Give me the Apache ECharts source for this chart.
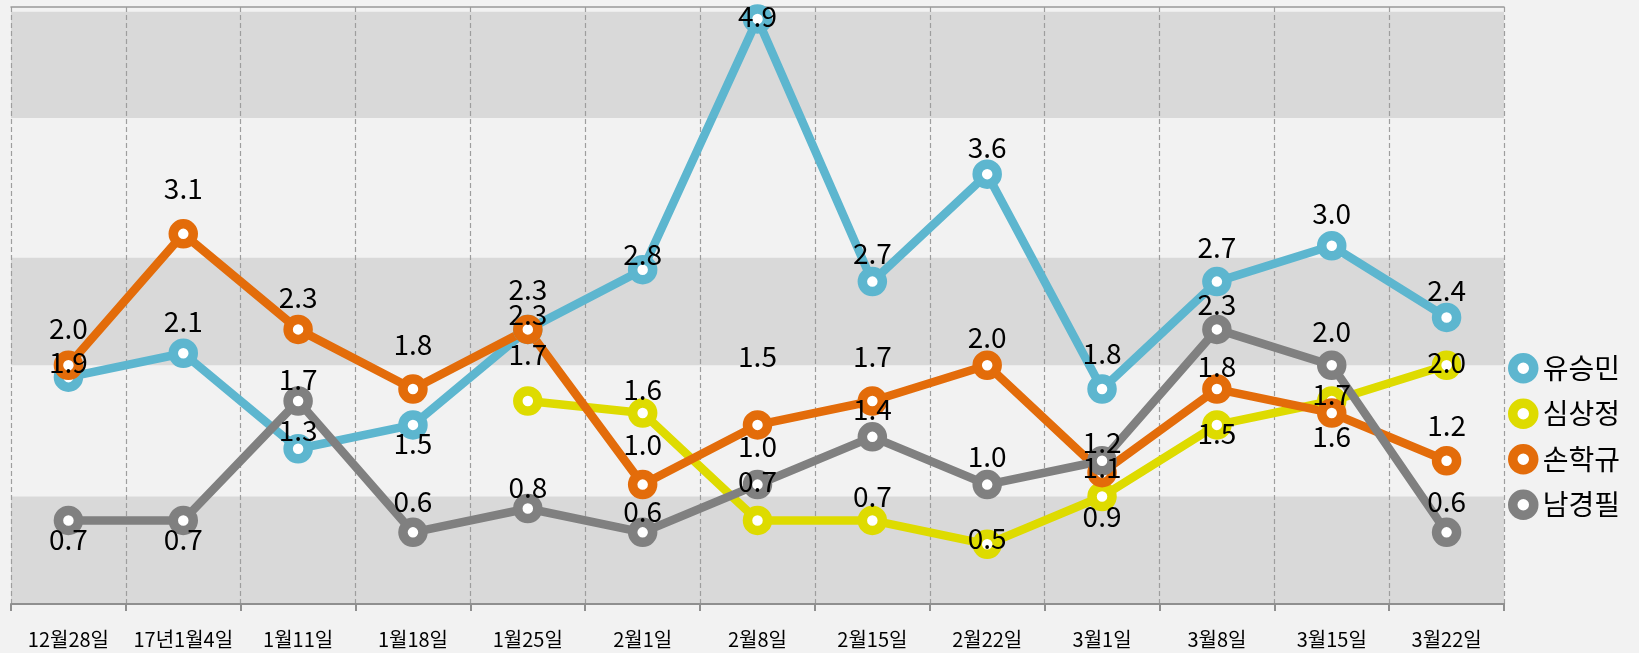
<!DOCTYPE html>
<html>
<head>
<meta charset="utf-8">
<script src="https://cdn.jsdelivr.net/npm/echarts@6/dist/echarts.min.js"></script>
<style>
    html, body { margin: 0; padding: 0; background: #f2f2f2; }
    #chart { width: 1639px; height: 653px; }
</style>
</head>
<body>
<div id="chart"></div>
<script>
var categories = ['12월28일', '17년1월4일', '1월11일', '1월18일', '1월25일', '2월1일', '2월8일', '2월15일', '2월22일', '3월1일', '3월8일', '3월15일', '3월22일'];

var yooSeungmin = [1.9, 2.1, 1.3, 1.5, 2.3, 2.8, 4.9, 2.7, 3.6, 1.8, 2.7, 3.0, 2.4];
var simSangjung = [null, null, null, null, 1.7, 1.6, 0.7, 0.7, 0.5, 0.9, 1.5, 1.7, 2.0];
var sonHakgyu = [2.0, 3.1, 2.3, 1.8, 2.3, 1.0, 1.5, 1.7, 2.0, 1.1, 1.8, 1.6, 1.2];
var namKyungpil = [0.7, 0.7, 1.7, 0.6, 0.8, 0.6, 1.0, 1.4, 1.0, 1.2, 2.3, 2.0, 0.6];

var seriesNames = ['유승민', '심상정', '손학규', '남경필'];
var seriesValues = [yooSeungmin, simSangjung, sonHakgyu, namKyungpil];
var z_color = ['#5db6cf', '#dedb00', '#e36c0a', '#808080'];

// background bands (value ranges on the y axis)
var bandRanges = [[0, 0.9], [2, 2.9], [4.07, 4.96]];

// vertical shift of each data label from its point (px), like the hand-placed labels
var labelShift = [
    [-15, -32, -18, 18, -15, -15, -3, -28, -27, -36, -34, -32, -27],
    [0, 0, 0, 0, -47, -24, -39, -24, -6, 20, 8, -7, -3],
    [-37, -46, -32, -45, -40, -40, -69, -45, -28, -5, -23, 23, -35],
    [19, 19, -22, -31, -21, -21, -38, -27, -28, -18, -25, -34, -31]
];

var myChart = echarts.init(document.getElementById('chart'));

var series = [{
    name: 'bands',
    type: 'line',
    data: [],
    silent: true,
    markArea: {
        silent: true,
        z: 1,
        itemStyle: { color: '#d9d9d9' },
        data: bandRanges.map(function (r) {
            return [{ yAxis: r[0] }, { yAxis: r[1] }];
        })
    }
}];

for (var i = 0; i < seriesNames.length; i++) {
    var pts = [];
    for (var j = 0; j < seriesValues[i].length; j++) {
        var v = seriesValues[i][j];
        if (v == null) {
            pts.push('-');
            continue;
        }
        pts.push({
            value: v,
            label: { offset: [0, labelShift[i][j]] }
        });
    }
    series.push({
        name: seriesNames[i],
        type: 'line',
        z: 3,
        data: pts,
        symbol: 'circle',
        symbolSize: 20,
        showAllSymbol: true,
        lineStyle: { color: z_color[i], width: 8.5 },
        itemStyle: { color: '#ffffff', borderColor: z_color[i], borderWidth: 9.5 },
        label: {
            show: true,
            position: 'inside',
            color: '#000',
            fontSize: 28,
            fontFamily: 'Noto Sans CJK KR',
            formatter: function (p) {
                return Number(p.value).toFixed(1);
            }
        }
    });
}

var option = {
    backgroundColor: '#f2f2f2',
    animation: false,
    grid: {
        left: 11,
        right: 135,
        top: 7,
        bottom: 49
    },
    legend: {
        data: seriesNames,
        orient: 'vertical',
        left: 1503,
        top: 348,
        icon: 'circle',
        itemWidth: 29,
        itemHeight: 21,
        itemGap: 15,
        itemStyle: { color: '#ffffff', borderWidth: 9.5 },
        textStyle: {
            fontSize: 28,
            lineHeight: 30,
            color: '#000',
            fontFamily: 'Noto Sans CJK KR'
        }
    },
    xAxis: [{
        type: 'category',
        data: categories,
        z: 2,
        axisLine: { lineStyle: { color: '#8f8f8f', width: 2 } },
        axisTick: { show: true, interval: 0, length: 7, lineStyle: { color: '#8f8f8f', width: 2 } },
        axisLabel: {
            interval: 0,
            color: '#000',
            fontSize: 20,
            margin: 25,
            fontFamily: 'Noto Sans CJK KR'
        },
        splitLine: {
            show: true,
            interval: 0,
            lineStyle: { color: '#9e9e9e', type: [5, 3], width: 1.2 }
        }
    }, {
        type: 'category',
        data: categories,
        position: 'top',
        z: 2,
        axisLine: { lineStyle: { color: '#999999', width: 1.5 } },
        axisTick: { show: false },
        axisLabel: { show: false },
        splitLine: { show: false }
    }],
    yAxis: {
        type: 'value',
        min: 0,
        max: 5,
        interval: 1,
        show: false,
        splitLine: { show: false }
    },
    series: series
};

myChart.setOption(option, true);
</script>
</body>
</html>
